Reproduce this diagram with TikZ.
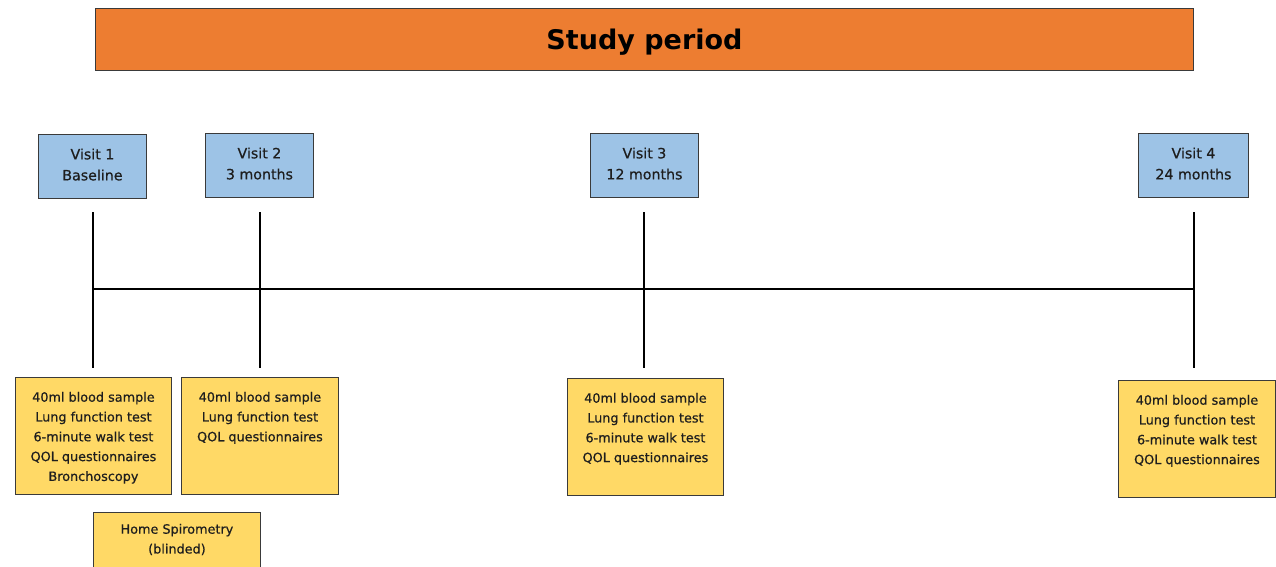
\documentclass[tikz,border=0pt]{standalone}
\usepackage{fontspec}
\setmainfont{DejaVu Sans}
\newfontfamily\boxfont[FakeBold=0.6]{DejaVu Sans}
\definecolor{barorange}{HTML}{ED7D31}
\definecolor{visitblue}{HTML}{9DC3E6}
\definecolor{actyellow}{HTML}{FFD966}
\definecolor{edgegray}{HTML}{3A3A3A}
\definecolor{txt}{HTML}{1E1E1E}
\tikzset{
  x=1pt, y=-1pt,
  titlebar/.style={draw=edgegray, fill=barorange, line width=0.9pt, anchor=north west,
    minimum width=1098pt, minimum height=62pt, inner sep=0pt,
    font=\fontsize{27}{30}\selectfont\bfseries, text=black},
  visitbox/.style={draw=edgegray, fill=visitblue, line width=0.9pt, anchor=north west,
    minimum width=108pt, minimum height=64pt, inner sep=0pt, align=center,
    font=\boxfont\fontsize{14.2}{21}\selectfont, text=txt},
  actbox/.style={draw=edgegray, fill=actyellow, line width=0.9pt, anchor=north west,
    inner sep=0pt, text=txt},
  tline/.style={line width=1.8pt, black},
}
\newcommand{\actlines}[4]{\begin{minipage}[t][#2][t]{#1}\centering\boxfont\fontsize{12.8}{19.8}\selectfont\vspace{#3}#4\end{minipage}}
\newcommand{\visitlift}{\\[-17pt]\mbox{}}
\begin{document}
\begin{tikzpicture}
\useasboundingbox (0,0) rectangle (1276,566);
\fill[white] (0,0) rectangle (1276,566);

\node[titlebar, text depth=-3pt] (title) at (95,8) {Study period};

\node[visitbox] (v1) at (38,134) {Visit 1\\Baseline\visitlift};
\node[visitbox] (v2) at (205,133) {Visit 2\\3 months\visitlift};
\node[visitbox] (v3) at (590,133) {Visit 3\\12 months\visitlift};
\node[visitbox, minimum width=110pt] (v4) at (1138,133) {Visit 4\\24 months\visitlift};

\coordinate (t1) at (93,212);  \coordinate (b1) at (93,368);
\coordinate (t2) at (260,212); \coordinate (b2) at (260,368);
\coordinate (t3) at (644,212); \coordinate (b3) at (644,368);
\coordinate (t4) at (1194,212);\coordinate (b4) at (1194,368);
\coordinate (h1) at (93,289);  \coordinate (h4) at (1194,289);

\draw[tline] (t1) -- (b1);
\draw[tline] (t2) -- (b2);
\draw[tline] (t3) -- (b3);
\draw[tline] (t4) -- (b4);
\draw[tline] (h1) -- (h4);

\node[actbox] (a1) at (15,377) {\actlines{156pt}{117pt}{14.5pt}{40ml blood sample\\Lung function test\\6-minute walk test\\QOL questionnaires\\Bronchoscopy}};
\node[actbox] (a2) at (181,377) {\actlines{157pt}{117pt}{14.5pt}{40ml blood sample\\Lung function test\\QOL questionnaires}};
\node[actbox] (a3) at (567,378) {\actlines{156pt}{117pt}{14.5pt}{40ml blood sample\\Lung function test\\6-minute walk test\\QOL questionnaires}};
\node[actbox] (a4) at (1118,380) {\actlines{157pt}{117pt}{14.5pt}{40ml blood sample\\Lung function test\\6-minute walk test\\QOL questionnaires}};
\node[actbox] (hs) at (93,512) {\actlines{167pt}{70pt}{11.5pt}{Home Spirometry\\(blinded)}};
\end{tikzpicture}
\end{document}
